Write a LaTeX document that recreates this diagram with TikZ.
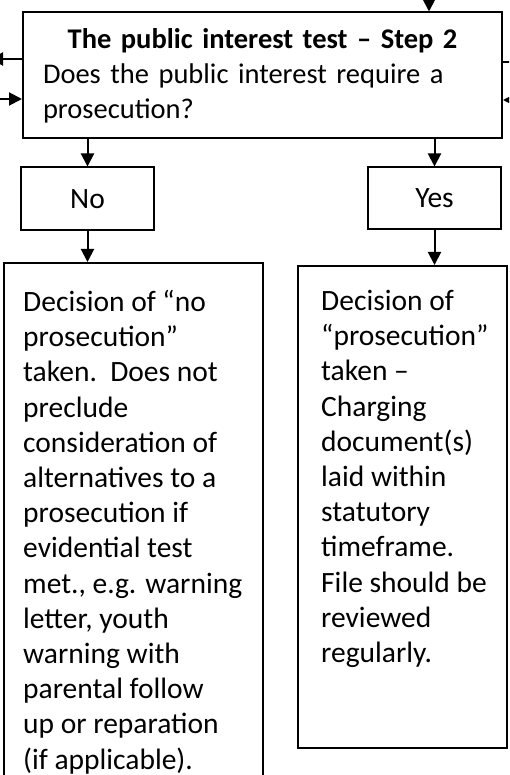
\documentclass[tikz,border=0pt]{standalone}
\usepackage{fontspec}
\setmainfont{Carlito}
\usetikzlibrary{arrows.meta}
\tikzset{
  flowbox/.style={draw, line width=2pt, inner sep=0pt, font=\fontsize{29.5}{35}\selectfont},
  arr/.style={line width=2pt, -{Triangle[width=13pt,length=13pt]}},
  txt/.style={anchor=north west, inner sep=0pt, align=left, font=\fontsize{29.5}{35.2}\selectfont}
}

\begin{document}
\begin{tikzpicture}[x=1pt,y=-1pt]
\clip (0,0) rectangle (509,775);
\node[flowbox, minimum width=479pt, minimum height=126pt, text width=439pt, align=left, font=\fontsize{28.5}{35}\selectfont] (test) at (262.5,75.5)
  {\makebox[439pt]{\bfseries The public interest test – Step 2}\\Does the public interest require a\\prosecution?};
\node[flowbox, minimum width=133pt, minimum height=63pt] (no) at (87.5,199) {No};
\node[flowbox, minimum width=133pt, minimum height=62pt] (yes) at (434.5,198.5) {Yes};
\node[flowbox, minimum width=259pt, minimum height=537pt] (noprosec) at (133.5,531.5) {};
\node[flowbox, minimum width=209pt, minimum height=482pt] (prosec) at (402.5,507) {};
\node[txt] (noprosectxt) at ([shift={(20,28)}]noprosec.north west)
  {Decision of “no\\prosecution”\\taken.\ \ Does not\\preclude\\consideration of\\alternatives to a\\prosecution if\\evidential test\\met., e.g. warning\\letter, youth\\warning with\\parental follow\\up or reparation\\(if applicable).};
\node[txt] (prosectxt) at ([shift={(24,25)}]prosec.north west)
  {Decision of\\“prosecution”\\taken –\\Charging\\document(s)\\laid within\\statutory\\timeframe.\\File should be\\reviewed\\regularly.};
\coordinate (outl) at (-10,59);
\coordinate (inl) at (-5,99);
\coordinate (outr) at (530,62);
\coordinate (inr) at (530,100);
\coordinate (intop) at (429,-5);
\draw[arr] (intop) -- (test.north -| intop);
\draw[arr] (test.west |- outl) -- (outl);
\draw[arr] (inl) -- (test.west |- inl);
\draw[arr] (test.east |- outr) -- (outr);
\draw[arr] (inr) -- (test.east |- inr);
\draw[arr] (test.south -| no) -- (no.north);
\draw[arr] (test.south -| yes) -- (yes.north);
\draw[arr] (no.south) -- (no.south |- noprosec.north);
\draw[arr] (yes.south) -- (yes.south |- prosec.north);
\end{tikzpicture}
\end{document}
